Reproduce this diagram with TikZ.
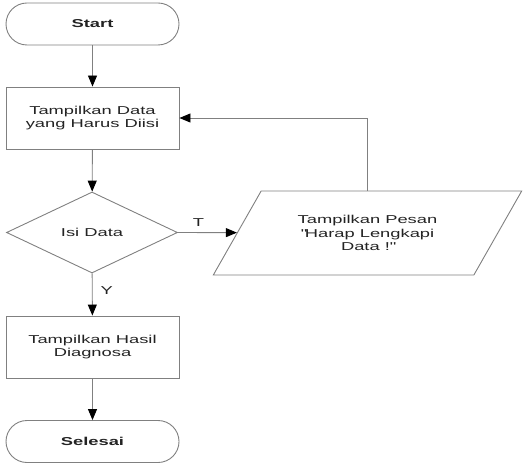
\documentclass[tikz,border=0pt]{standalone}
\usepackage{fontspec}
\setmainfont{Liberation Sans}[FakeStretch=1.6]
\usetikzlibrary{shapes.geometric,arrows.meta}
\definecolor{edge}{RGB}{128,128,128}
\definecolor{txt}{RGB}{35,35,35}
\tikzset{
  base/.style={draw=edge, line width=0.9bp, text=txt, font=\fontsize{11.5}{13.5}\selectfont, align=center, inner sep=2bp},
  term/.style={base, rectangle, rounded corners=21bp, minimum width=173bp, minimum height=42bp, font=\fontsize{11.5}{13.5}\selectfont\bfseries},
  proc/.style={base, rectangle, minimum width=173bp, minimum height=62bp},
  dec/.style={base, diamond, minimum width=171bp, minimum height=81bp},
  io/.style={base, trapezium, trapezium left angle=50.6, trapezium right angle=129.4, minimum width=309bp, minimum height=84bp, trapezium stretches=true},
  arr/.style={draw=edge, line width=0.9bp, -{Triangle[length=11bp,width=9bp,fill=black,color=black]}},
  lab/.style={text=txt, font=\fontsize{11.5}{13.5}\selectfont, inner sep=0pt}
}
\begin{document}
\begin{tikzpicture}[x=1bp,y=-1bp]
\useasboundingbox (0,0) rectangle (523,465);
\node[term] (start) at (92.5,24) {Start};
\node[proc] (show) at (92.5,118) {Tampilkan Data\\yang Harus Diisi};
\node[dec] (isi) at (92,232.5) {Isi Data};
\node[io] (msg) at (367.5,233) {Tampilkan Pesan\\\textquotedbl Harap Lengkapi\\Data !\textquotedbl};
\node[proc] (hasil) at (92.5,347) {Tampilkan Hasil\\Diagnosa};
\node[term] (end) at (92.5,441.5) {Selesai};
\draw[arr] (start) -- (show);
\draw[arr] (show) -- (isi);
\draw[arr] (isi.east) -- (msg) node[lab, pos=0.35, above=6bp] {T};
\draw[arr] (msg.north) |- (show.east);
\draw[arr] (isi) -- (hasil) node[lab, pos=0.4, right=8bp] {Y};
\draw[arr] (hasil) -- (end);
\end{tikzpicture}
\end{document}
